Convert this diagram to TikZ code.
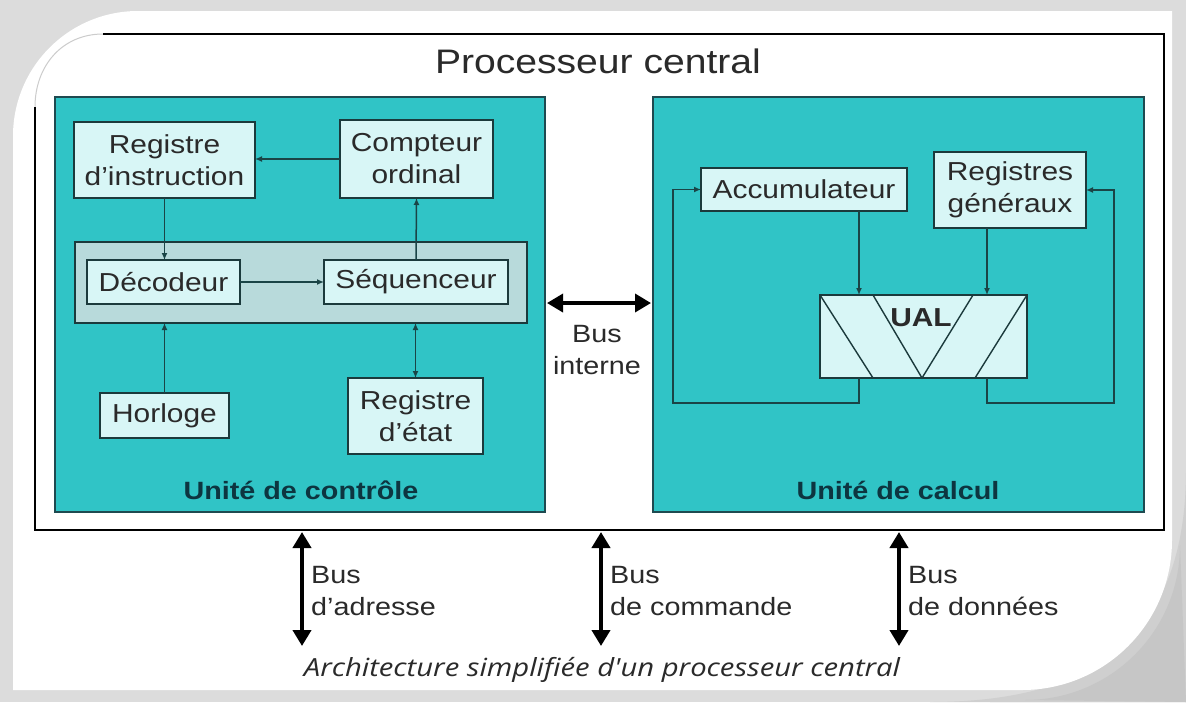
\documentclass[tikz,border=0pt]{standalone}
\usepackage{fontspec}
\usetikzlibrary{arrows.meta,calc}
\newfontfamily\diagfont[FakeStretch=1.15]{Liberation Sans}
\newfontfamily\capfont[FakeStretch=1.17]{Open Sans}
\definecolor{bgc}{HTML}{DCDCDC}
\definecolor{shadowc}{HTML}{C6C6C6}
\definecolor{unitfill}{HTML}{30C4C6}
\definecolor{unitline}{HTML}{1E4A50}
\definecolor{boxfill}{HTML}{D8F6F6}
\definecolor{grpfill}{HTML}{B8DADB}
\definecolor{boxline}{HTML}{1B3A3C}
\definecolor{linec}{HTML}{1A4446}
\definecolor{txt}{HTML}{2A2A2A}
\definecolor{unittxt}{HTML}{0D3540}
\definecolor{edgec}{HTML}{CCCCCC}
\begin{document}
\begin{tikzpicture}[x=1pt,y=-1pt,
  unit/.style={draw=unitline, line width=1.8pt, fill=unitfill, inner sep=0pt, outer sep=0pt},
  box/.style={draw=boxline, line width=1.6pt, fill=boxfill, inner sep=0pt, outer sep=0pt,
    align=center, text=txt, font=\diagfont\fontsize{26}{32}\selectfont},
  grp/.style={draw=boxline, line width=1.6pt, fill=grpfill, inner sep=0pt, outer sep=0pt},
  conn/.style={draw=linec, line width=1.5pt, -{Latex[length=7pt,width=6pt]}},
  conn2/.style={draw=linec, line width=1.5pt, {Latex[length=7pt,width=6pt]}-{Latex[length=7pt,width=6pt]}},
  busarrow/.style={draw=black, line width=4pt, {Triangle[length=16pt,width=18pt]}-{Triangle[length=16pt,width=18pt]}},
  lbl/.style={inner sep=0pt, text=txt, align=left, font=\diagfont\fontsize{25}{32}\selectfont},
  unitlbl/.style={inner sep=0pt, text=unittxt, font=\diagfont\bfseries\fontsize{25}{30}\selectfont}]
\useasboundingbox (0,0) rectangle (1186,702);

% page background, card shadow and card
\fill[bgc] (0,0) rectangle (1186,702);
\fill[shadowc] (1186,430) -- (1186,702) -- (990,702) .. controls (1100,702) and (1186,620) .. (1186,520) -- cycle;
\fill[shadowc!60!bgc] (1186,380) -- (1186,702) -- (930,702) .. controls (1090,702) and (1186,640) .. (1186,470) -- cycle;
\fill[shadowc] (1180,545) .. controls (1180,632) and (1110,700) .. (1025,700) -- (1186,702) -- cycle;
\fill[white] (13,690) -- (13,136) .. controls (13,67) and (69,11) .. (138,11)
  -- (1172,11) -- (1172,540) .. controls (1172,623) and (1105,690) .. (1022,690) -- cycle;

% outer frame of the processor, with its clipped top-left corner
\coordinate (pBR) at (1164,530);
\draw[edgec, line width=1pt] (35,107) .. controls (35,66) and (62,34) .. (103,34);
\draw[black, line width=1.8pt] (103,34) -- (1164,34) -- (pBR) -- (35,530) -- (35,107);
\node[inner sep=0pt, text=txt, font=\diagfont\fontsize{34}{40}\selectfont] (title) at (598,61) {Processeur central};

% the two units
\node[unit, minimum width=490pt, minimum height=415pt] (cu) at (300,304.5) {};
\node[unit, minimum width=491pt, minimum height=415pt] (au) at (898.5,304.5) {};
\node[unitlbl] (culbl) at (301,490) {Unité de contrôle};
\node[unitlbl] (aulbl) at (898,490) {Unité de calcul};

% control unit
\node[grp, minimum width=452pt, minimum height=81pt] (seqgrp) at (301,282.5) {};
\node[box, minimum width=181pt, minimum height=76pt] (regi) at (164.5,160) {Registre\\d’instruction};
\node[box, minimum width=153pt, minimum height=78pt] (compt) at (416.5,159) {Compteur\\ordinal};
\node[box, minimum width=153pt, minimum height=44pt] (deco) at (163.5,282) {Décodeur};
\node[box, minimum width=184pt, minimum height=44pt] (seq) at (416,282) {Séquenceur};
\node[box, minimum width=129pt, minimum height=45pt] (horl) at (164.5,415.5) {Horloge};
\node[box, minimum width=135pt, minimum height=76pt] (etat) at (415.5,416) {Registre\\d’état};

\draw[conn] (compt.west) -- (compt.west -| regi.east);
\draw[conn] (regi.south) -- (regi.south |- deco.north);
\draw[conn] (deco.east) -- (seq.west);
\draw[conn] (seq.north) -- (compt.south);
\draw[conn] (horl.north) -- (horl.north |- seqgrp.south);
\draw[conn2] (etat.north |- seqgrp.south) -- (etat.north);

% arithmetic unit
\node[box, minimum width=206pt, minimum height=43pt] (accu) at (804,189.5) {Accumulateur};
\node[box, minimum width=152pt, minimum height=76pt] (regg) at (1010,190) {Registres\\généraux};
\node[box, minimum width=207pt, minimum height=83pt] (ual) at (923.5,336.5) {};
\draw[boxline, line width=1.4pt] (ual.north west) -- ([xshift=53pt]ual.south west);
\draw[boxline, line width=1.4pt] ([xshift=53pt]ual.north west) -- ([xshift=102pt]ual.south west) -- ([xshift=153pt]ual.north west);
\draw[boxline, line width=1.4pt] ([xshift=155pt]ual.south west) -- (ual.north east);
\node[inner sep=0pt, text=txt, font=\diagfont\bfseries\fontsize{26}{30}\selectfont] (ualtxt) at (921,318) {UAL};

\coordinate (loopL) at (673,403);
\coordinate (loopR) at (1114,403);
\draw[conn] ([xshift=55pt]accu.south) -- ([xshift=55pt]accu.south |- ual.north);
\draw[conn] ([xshift=-23pt]regg.south) -- ([xshift=-23pt]regg.south |- ual.north);
\draw[conn] ([xshift=55pt]accu.south |- ual.south) |- (loopL) |- (accu.west);
\draw[conn] ([xshift=-23pt]regg.south |- ual.south) |- (loopR) |- (regg.east);

% internal bus
\coordinate (bi) at (599,303);
\draw[busarrow, line width=3.5pt] ([xshift=2pt]cu.east |- bi) -- ([xshift=-2pt]au.west |- bi);
\node[lbl, align=center] (bilbl) at (597,350) {Bus\\interne};

% external buses
\coordinate (ba) at (302,646);
\coordinate (bc) at (601,646);
\coordinate (bd) at (899,646);
\draw[busarrow] ([yshift=-2pt]ba |- pBR) -- (ba);
\draw[busarrow] ([yshift=-2pt]bc |- pBR) -- (bc);
\draw[busarrow] ([yshift=-2pt]bd |- pBR) -- (bd);
\node[lbl, anchor=west] (balbl) at (311,591) {Bus\\d’adresse};
\node[lbl, anchor=west] (bclbl) at (610,591) {Bus\\de commande};
\node[lbl, anchor=west] (bdlbl) at (908,591) {Bus\\de données};

\node[inner sep=0pt, text=txt, font=\capfont\itshape\fontsize{25}{30}\selectfont] (caption) at (602,670)
  {Architecture simplifiée d'un processeur central};
\end{tikzpicture}
\end{document}
